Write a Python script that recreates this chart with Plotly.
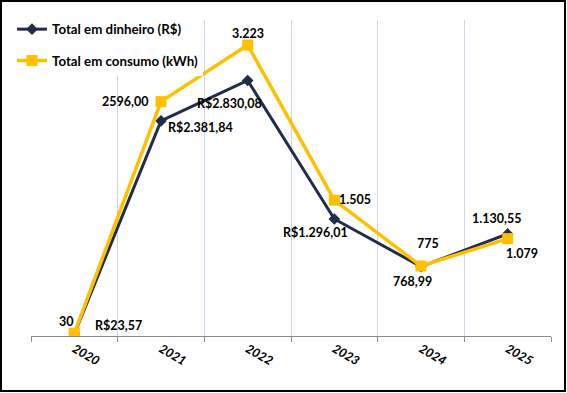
import plotly.graph_objects as go

years = ["2020", "2021", "2022", "2023", "2024", "2025"]
dinheiro = [23.57, 2381.84, 2830.08, 1296.01, 768.99, 1130.55]
consumo = [30, 2596, 3223, 1505, 775, 1079]
dinheiro_labels = ["R$23,57", "R$2.381,84", "R$2.830,08", "R$1.296,01", "768,99", "1.130,55"]
consumo_labels = ["30", "2596,00", "3.223", "1.505", "775", "1.079"]

# label offsets (px, right / down)
din_off = [(44, -8), (39, 7), (-18, 23), (-19, 14), (-9, 15), (-11, -15)]
con_off = [(-8, -12), (-36, 0), (0, -12), (21, -1), (7, -23), (14, 15)]

W, H = 567, 393
L, R, T, B = 31, 16, 20, 57
pw, ph = W - L - R, H - T - B

NAVY = "#1f2d4a"
GOLD = "#ffc000"
FONT = "Lato"

fig = go.Figure()
fig.add_trace(go.Scatter(
    x=years, y=dinheiro, name="Total em dinheiro (R$)", mode="lines+markers",
    line=dict(color=NAVY, width=3), marker=dict(symbol="diamond", size=9, color=NAVY),
    legendgroup="a"))
fig.add_trace(go.Scatter(
    x=years, y=consumo, name="Total em consumo (kWh)", mode="lines+markers",
    line=dict(color=GOLD, width=3.5), marker=dict(symbol="square", size=11, color=GOLD),
    legendgroup="b"))

ann = []
for ys, labs, offs in ((dinheiro, dinheiro_labels, din_off),
                       (consumo, consumo_labels, con_off)):
    for i, (y, t, (dx, dy)) in enumerate(zip(ys, labs, offs)):
        ann.append(dict(x=i, y=y, xref="x", yref="y", text="<b>%s</b>" % t,
                        showarrow=False, xshift=dx, yshift=-dy,
                        font=dict(family=FONT, size=12.5, color="black")))

fig.update_layout(
    width=W, height=H, margin=dict(l=L, r=R, t=T, b=B),
    paper_bgcolor="white", plot_bgcolor="white",
    annotations=ann,
    showlegend=True,
    legend=dict(x=(12 - L) / pw, y=(ph + T - 14) / ph, xanchor="left", yanchor="top",
                bgcolor="white", tracegroupgap=11,
                font=dict(family=FONT, size=13.3, color="black", weight="bold")),
    xaxis=dict(type="category", tickson="boundaries", showgrid=True,
               gridcolor="#c9d6ec", gridwidth=1, showline=True, linecolor="#8c8c8c",
               linewidth=1, ticks="outside", ticklen=5, tickcolor="#8c8c8c",
               tickangle=30, range=[-0.5, 5.5],
               tickfont=dict(family=FONT, size=12.5, color="black", weight="bold", style="italic")),
    yaxis=dict(range=[0, 3500], showgrid=False, showticklabels=False, zeroline=False,
               showline=False),
    shapes=[dict(type="rect", xref="paper", yref="paper",
                 x0=(1 - L) / pw, x1=(W - 2 - L) / pw,
                 y0=(H - B - (H - 2)) / ph, y1=(H - B - 1) / ph,
                 line=dict(color="black", width=2), fillcolor="rgba(0,0,0,0)", layer="above")],
)

fig.write_html("out.html", config={"displayModeBar": False},
               post_script="document.body.style.margin='0';document.body.style.overflow='hidden';")
